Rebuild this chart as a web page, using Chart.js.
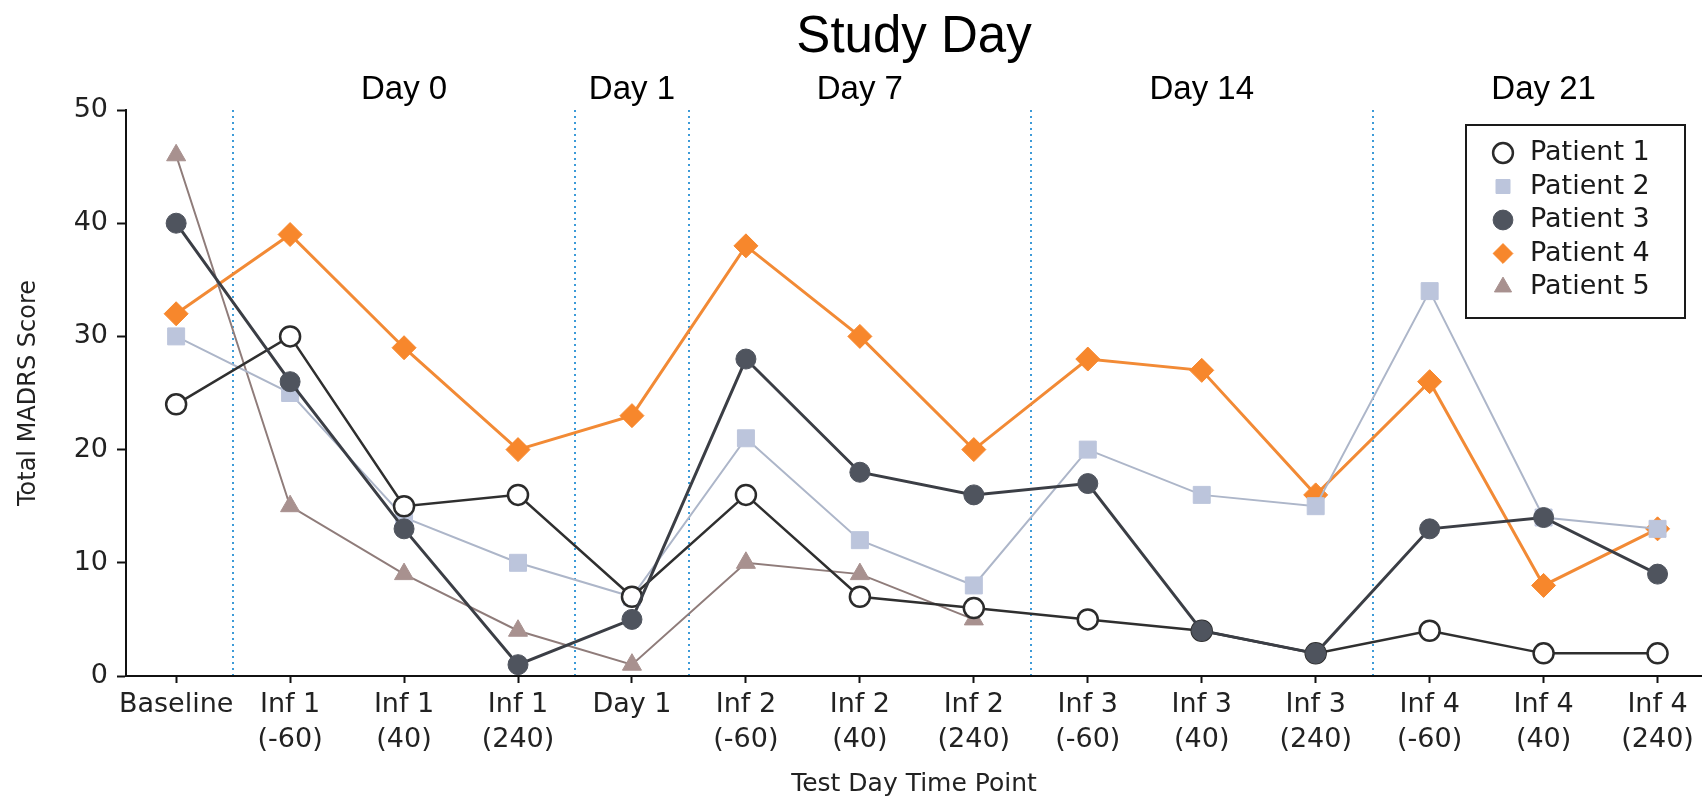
<!DOCTYPE html>
<html>
<head>
  <meta charset="UTF-8">
  <title>Total MADRS Score by Test Day Time Point</title>
  <style>
    html, body { margin: 0; padding: 0; background: #fff; }
    #wrap { width: 1702px; height: 802px; }
  </style>
</head>
<body>
<div id="wrap">
  <canvas id="myChart"></canvas>
</div>
<script src="https://cdn.jsdelivr.net/npm/chart.js"></script>
<script>
// time points on the x axis (multi-line tick labels)
const timePoints = [
  ['Baseline'],
  ['Inf 1', '(-60)'], ['Inf 1', '(40)'], ['Inf 1', '(240)'],
  ['Day 1'],
  ['Inf 2', '(-60)'], ['Inf 2', '(40)'], ['Inf 2', '(240)'],
  ['Inf 3', '(-60)'], ['Inf 3', '(40)'], ['Inf 3', '(240)'],
  ['Inf 4', '(-60)'], ['Inf 4', '(40)'], ['Inf 4', '(240)'],
];

// study day headers and where the dotted separators fall
const dayLabels = ['Day 0', 'Day 1', 'Day 7', 'Day 14', 'Day 21'];
const dayLabelAt = [2, 4, 6, 9, 12];
const dayDividers = [0.5, 3.5, 4.5, 7.5, 10.5];

const yTicks = [0, 10, 20, 30, 40, 50];

// Total MADRS score per patient
const patient1 = [24, 30, 15, 16, 7, 16, 7, 6, 5, 4, 2, 4, 2, 2];
const patient2 = [30, 25, 14, 10, 7, 21, 12, 8, 20, 16, 15, 34, 14, 13];
const patient3 = [40, 26, 13, 1, 5, 28, 18, 16, 17, 4, 2, 13, 14, 9];
const patient4 = [32, 39, 29, 20, 23, 38, 30, 20, 28, 27, 16, 26, 8, 13];
const patient5 = [46, 15, 9, 4, 1, 10, 9, 5, null, null, null, null, null, null];

const xMin = -0.44, xMax = 13.39;

const toXY = (arr) => arr.map((v, i) => ({x: i, y: v}));

const datasets = [
  {
    label: 'Patient 1', data: toXY(patient1), order: 1,
    borderColor: '#2f2f2f', borderWidth: 2.5,
    pointStyle: 'circle', pointRadius: 10,
    pointBackgroundColor: '#ffffff', pointBorderColor: '#2b2b2b', pointBorderWidth: 2.5,
  },
  {
    label: 'Patient 2', data: toXY(patient2), order: 2,
    borderColor: '#adb6c9', borderWidth: 2,
    pointStyle: 'rect', pointRadius: 12,
    pointBackgroundColor: '#bcc5dc', pointBorderColor: '#bcc5dc', pointBorderWidth: 1,
  },
  {
    label: 'Patient 3', data: toXY(patient3), order: 0,
    borderColor: '#3b3e45', borderWidth: 3,
    pointStyle: 'circle', pointRadius: 10,
    pointBackgroundColor: '#4f545e', pointBorderColor: '#4f545e', pointBorderWidth: 1,
  },
  {
    label: 'Patient 4', data: toXY(patient4), order: 4,
    borderColor: '#f28a35', borderWidth: 3,
    pointStyle: 'rectRot', pointRadius: 12,
    pointBackgroundColor: '#f7872c', pointBorderColor: '#f7872c', pointBorderWidth: 1,
  },
  {
    label: 'Patient 5', data: toXY(patient5), order: 3,
    borderColor: '#8f7c7a', borderWidth: 2,
    pointStyle: 'triangle', pointRadius: 11,
    pointBackgroundColor: '#a8918f', pointBorderColor: '#a8918f', pointBorderWidth: 1,
  },
];

// move the legend into the upper right of the plot and frame it
const legendFrame = {
  id: 'legendFrame',
  afterLayout(chart) {
    const lg = chart.legend;
    if (!lg) return;
    lg.left = 1483;
    lg.top = 133;
    lg.right = lg.left + lg.width;
    lg.bottom = lg.top + lg.height;
    if (lg.adjustHitBoxes) lg.adjustHitBoxes();
  },
  afterDraw(chart) {
    const ctx = chart.ctx;
    ctx.save();
    ctx.strokeStyle = '#1a1a1a';
    ctx.lineWidth = 2;
    ctx.strokeRect(1466, 125, 219, 193);
    ctx.restore();
  }
};

const noSidePadding = (scale) => { scale.paddingLeft = 0; scale.paddingRight = 0; };

const config = {
  type: 'line',
  data: { datasets: datasets },
  options: {
    responsive: true,
    maintainAspectRatio: false,
    animation: false,
    devicePixelRatio: 1,
    layout: { padding: 0, autoPadding: false },
    elements: { line: { tension: 0 } },
    plugins: {
      tooltip: { enabled: false },
      title: {
        display: true,
        fullSize: false,
        text: 'Study Day',
        color: '#000',
        font: { family: 'Liberation Sans', size: 51, weight: 'normal', lineHeight: 1 },
        padding: { top: 12, bottom: 5 },
      },
      legend: {
        position: 'chartArea',
        align: 'start',
        labels: {
          usePointStyle: true,
          boxWidth: 27,
          boxHeight: 14,
          padding: 6.5,
          color: '#1a1a1a',
          font: { family: 'DejaVu Sans', size: 27 },
          sort: (a, b) => a.datasetIndex - b.datasetIndex,
        },
      },
    },
    scales: {
      x: {
        type: 'linear',
        position: 'bottom',
        min: xMin, max: xMax,
        afterBuildTicks: (scale) => { scale.ticks = timePoints.map((t, i) => ({value: i})); },
        afterFit: (scale) => { scale.height = 126; noSidePadding(scale); },
        ticks: {
          autoSkip: false, maxRotation: 0, padding: 4,
          color: '#222',
          font: { family: 'DejaVu Sans', size: 27, lineHeight: 1.3 },
          callback: (v) => timePoints[v] || '',
        },
        grid: { drawOnChartArea: false, tickLength: 7, tickWidth: 2, tickColor: '#111', color: '#111' },
        border: { color: '#111', width: 2 },
        title: {
          display: true, text: 'Test Day Time Point', color: '#222',
          font: { family: 'DejaVu Sans', size: 25 },
          padding: { top: 0, bottom: 3 },
        },
      },
      days: {
        type: 'linear',
        axis: 'x',
        position: 'top',
        min: xMin, max: xMax,
        afterBuildTicks: (scale) => {
          scale.ticks = dayDividers.concat(dayLabelAt).sort((a, b) => a - b).map(v => ({value: v}));
        },
        afterFit: (scale) => { scale.height = 42; noSidePadding(scale); },
        ticks: {
          autoSkip: false, maxRotation: 0, padding: 0,
          color: '#000',
          font: { family: 'Liberation Sans', size: 33 },
          callback: (v) => { const k = dayLabelAt.indexOf(v); return k >= 0 ? dayLabels[k] : ''; },
        },
        grid: {
          drawTicks: false,
          drawOnChartArea: true,
          lineWidth: 2,
          borderDash: [2, 4],
          color: (c) => (c.tick && dayDividers.includes(c.tick.value)) ? '#3d9bd8' : 'rgba(0,0,0,0)',
        },
        border: { display: false, dash: [2, 4] },
      },
      y: {
        min: 0, max: 50,
        afterBuildTicks: (scale) => { scale.ticks = yTicks.map(v => ({value: v})); },
        afterFit: (scale) => { scale.width = 126; },
        ticks: {
          padding: 9, color: '#222',
          font: { family: 'DejaVu Sans', size: 27 },
        },
        grid: { drawOnChartArea: false, tickLength: 9, tickWidth: 2, tickColor: '#111', color: '#111' },
        border: { color: '#111', width: 2 },
        title: {
          display: true, text: 'Total MADRS Score', color: '#222',
          font: { family: 'DejaVu Sans', size: 24 },
          padding: { top: 14, bottom: 0 },
        },
      },
    },
  },
  plugins: [legendFrame],
};

const myChart = new Chart(document.getElementById('myChart'), config);
</script>
</body>
</html>
